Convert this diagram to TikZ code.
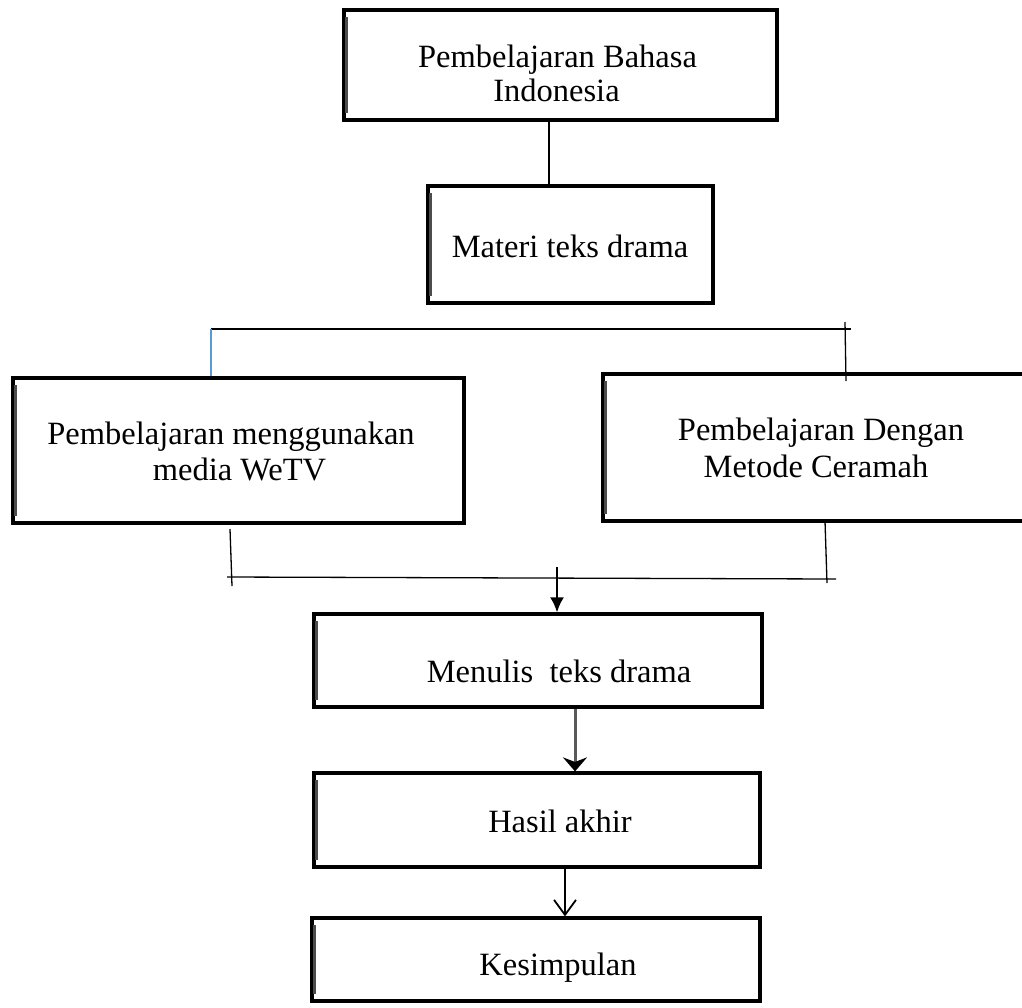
\documentclass[tikz,border=0pt]{standalone}
\usepackage{fontspec}
\setmainfont{Liberation Serif}
\usetikzlibrary{arrows.meta}
\definecolor{ticblue}{RGB}{91,155,213}
\begin{document}
\begin{tikzpicture}[x=1pt,y=-1pt,
  box/.style={draw,line width=3.2pt,inner sep=0pt},
  lbl/.style={anchor=base,inner sep=0pt,font=\fontsize{32.5}{36}\selectfont},
  innerbar/.style={line width=2.2pt,black!70},
  conn/.style={line width=2.2pt},
  thinline/.style={line width=1.3pt}]
\useasboundingbox (0,0) rectangle (1022,1007);
\fill[white] (0,0) rectangle (1022,1007);

% boxes
\node[box,minimum width=433,minimum height=110] (b1) at (560.5,65) {};
\node[box,minimum width=285,minimum height=117] (b2) at (570.5,244.5) {};
\node[box,minimum width=451,minimum height=145] (bl) at (238.5,450.5) {};
\node[box,minimum width=427,minimum height=147] (br) at (816.5,447.5) {};
\node[box,minimum width=448,minimum height=93] (bm) at (538,660.5) {};
\node[box,minimum width=446,minimum height=94] (bh) at (537,820) {};
\node[box,minimum width=448,minimum height=83] (bk) at (536,959.5) {};

% thicker left edges
\foreach \n in {b1,b2,bl,br,bm,bh,bk}{
  \draw[innerbar] ([xshift=4pt,yshift=-9pt]\n.north west) -- ([xshift=4pt,yshift=9pt]\n.south west);
}

% texts
\node[lbl] (t1a) at (557.5,67) {Pembelajaran Bahasa};
\node[lbl] (t1b) at (556.5,101) {Indonesia};
\node[lbl] (t2) at (570,257) {Materi teks drama};
\node[lbl] (tla) at (231,444) {Pembelajaran menggunakan};
\node[lbl] (tlb) at (239.5,480) {media WeTV};
\node[lbl] (tra) at (821,440) {Pembelajaran Dengan};
\node[lbl] (trb) at (816,477) {Metode Ceramah};
\node[lbl] (tm) at (559,682) {Menulis\ \ teks drama};
\node[lbl] (th) at (560,832) {Hasil akhir};
\node[lbl] (tk) at (558,975) {Kesimpulan};

% connector box1 -> box2
\draw[conn] (549,0 |- b1.south) -- (549,0 |- b2.north);

% upper bus
\coordinate (ubL) at (211,329);
\coordinate (ubR) at (851,329);
\coordinate (ubT) at (845,322);
\draw[line width=2.6pt] (ubL) -- (ubR);
\draw[ticblue,line width=1.3pt] (ubL) -- (211,0 |- bl.north);
\draw[thinline] (ubT) -- (846,381);

% lower bus
\coordinate (lbL) at (227,577);
\coordinate (lbR) at (836,579);
\coordinate (lbM) at (557,567);
\draw[thinline] (230,529) -- (232,586);
\draw[thinline] (825,521) -- (827,583);
\draw[thinline] (lbL) -- (lbR);
\draw[conn,-{Latex[length=15pt,width=14pt]}] (lbM) -- (557,0 |- bm.north);

% Menulis -> Hasil
\draw[line width=3pt,black!65,-{Stealth[length=14pt,width=24pt,black]}] (575,0 |- bm.south) -- (575,0 |- bh.north);

% Hasil -> Kesimpulan
\draw[line width=1.8pt,-{Straight Barb[length=15pt,width=22pt]}] (565,0 |- bh.south) -- (565,0 |- bk.north);
\end{tikzpicture}
\end{document}
